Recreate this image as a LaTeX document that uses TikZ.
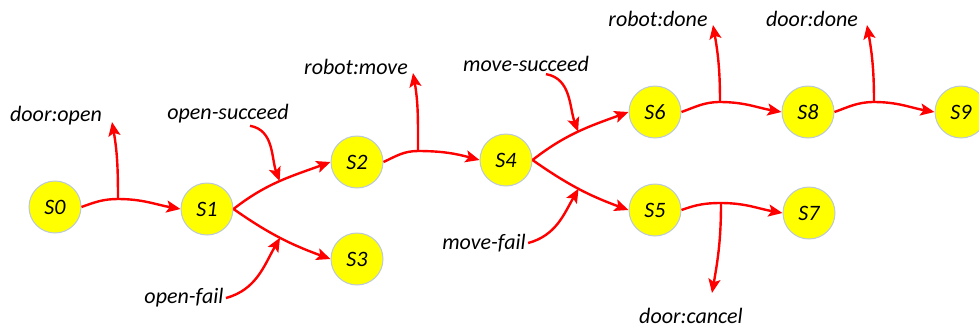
\documentclass[tikz,border=0pt]{standalone}
\usepackage{fontspec}
\setmainfont{Carlito}
\usepackage{tikz}
\usetikzlibrary{arrows.meta}
\definecolor{smFill}{HTML}{FFFF00}
\definecolor{smRim}{HTML}{BCC8D8}
\definecolor{smEdge}{HTML}{FF0000}
\tikzset{
  smstate/.style={
    circle, draw=smRim, line width=0.5pt, fill=smFill, minimum size=26pt,
    inner sep=0pt, font=\fontsize{11}{13}\selectfont\itshape
  },
  evt/.style={font=\fontsize{11}{13}\selectfont\itshape, inner sep=1pt},
  trans/.style={-{Stealth[length=7pt, width=6pt, inset=1.5pt]}, line width=1.2pt, smEdge}
}
\begin{document}
\begin{tikzpicture}[x=0.5pt, y=0.5pt]
  \useasboundingbox (0,0) rectangle (979,329);
  % states
  \node[smstate] (s0) at (55,122) {S0};
  \node[smstate] (s1) at (207,120) {S1};
  \node[smstate] (s2) at (357,167) {S2};
  \node[smstate] (s3) at (357,70) {S3};
  \node[smstate] (s4) at (506,169) {S4};
  \node[smstate] (s5) at (655,119) {S5};
  \node[smstate] (s6) at (655,217) {S6};
  \node[smstate] (s7) at (809,116) {S7};
  \node[smstate] (s8) at (808,217) {S8};
  \node[smstate] (s9) at (961,217) {S9};
  % events
  \node[evt] (eDoorOpen) at (56,213) {door:open};
  \node[evt] (eOpenSucc) at (228,215) {open-succeed};
  \node[evt] (eOpenFail) at (184,31) {open-fail};
  \node[evt] (eRobotMove) at (356,262) {robot:move};
  \node[evt] (eMoveSucc) at (526,265) {move-succeed};
  \node[evt] (eMoveFail) at (484,86) {move-fail};
  \node[evt] (eRobotDone) at (658,310) {robot:done};
  \node[evt] (eDoorDone) at (812,310) {door:done};
  \node[evt] (eDoorCancel) at (691,13) {door:cancel};
  % forks and free ends
  \coordinate (j01) at (118,130);
  \coordinate (t01) at (112,207);
  \coordinate (j24) at (418,178);
  \coordinate (t24) at (413,256);
  \coordinate (j68) at (720,227);
  \coordinate (t68) at (713,304);
  \coordinate (j89) at (874,227);
  \coordinate (t89) at (867,304);
  \coordinate (j57) at (721,126);
  \coordinate (t57) at (712,36);
  % transitions
  \draw[trans] (s0.east) to[out=20, in=180] (j01) to[out=0, in=170] (s1.west);
  \draw[trans] (j01) to[out=90, in=-80] (t01);
  \draw[trans] (s1.east) to[out=38, in=200] coordinate[pos=0.5] (r12) (s2.west);
  \draw[trans] (s1.east) to[out=-35, in=160] coordinate[pos=0.5] (r13) (s3.west);
  \draw[trans] ([xshift=11pt]eOpenSucc.south) to[out=-10, in=110] (r12);
  \draw[trans] (eOpenFail.east) to[out=15, in=-120] (r13);
  \draw[trans] (s2.east) to[out=25, in=180] (j24) to[out=0, in=165] (s4.west);
  \draw[trans] (j24) to[out=90, in=-80] (t24);
  \draw[trans] (s4.east) to[out=38, in=200] coordinate[pos=0.5] (r46) (s6.west);
  \draw[trans] (s4.east) to[out=-35, in=160] coordinate[pos=0.5] (r45) (s5.west);
  \draw[trans] ([xshift=10pt]eMoveSucc.south) to[out=-10, in=110] (r46);
  \draw[trans] (eMoveFail.east) to[out=15, in=-120] (r45);
  \draw[trans] (s6.east) to[out=20, in=180] (j68) to[out=0, in=170] (s8.west);
  \draw[trans] (j68) to[out=90, in=-80] (t68);
  \draw[trans] (s8.east) to[out=20, in=180] (j89) to[out=0, in=170] (s9.west);
  \draw[trans] (j89) to[out=90, in=-80] (t89);
  \draw[trans] (s5.east) to[out=20, in=180] (j57) to[out=0, in=170] (s7.west);
  \draw[trans] (j57) to[out=-90, in=80] (t57);
\end{tikzpicture}
\end{document}
